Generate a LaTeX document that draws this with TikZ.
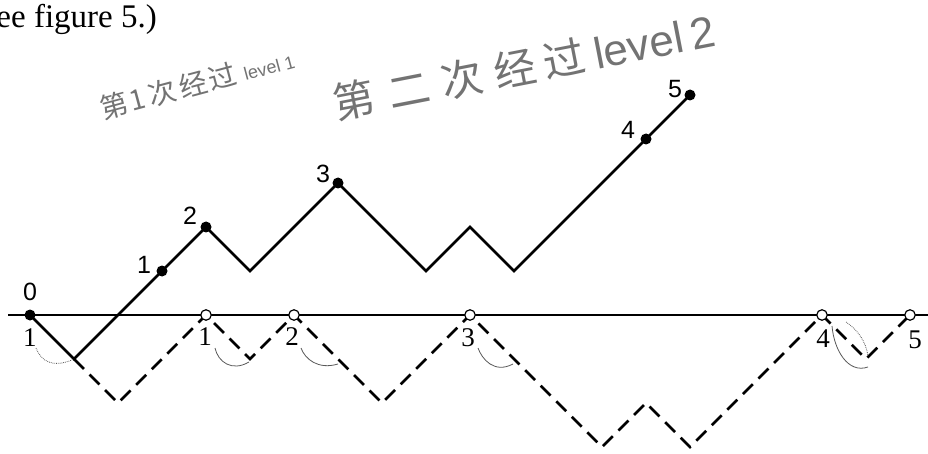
\documentclass[tikz,border=0pt]{standalone}
\usepackage{fontspec}
\setmainfont{Liberation Serif}
\newfontfamily\lsans{Liberation Sans}
\newfontfamily\cjk{Noto Sans CJK SC}
\begin{document}
\begin{tikzpicture}[x=1pt,y=-1pt,
  axisline/.style={line width=2pt},
  walk/.style={line width=2.6pt, line join=miter},
  walkdash/.style={walk, dash pattern=on 14pt off 8pt},
  fdot/.style={circle, fill=black, inner sep=0pt, minimum size=11pt},
  odot/.style={circle, draw=black, fill=white, line width=1.2pt, inner sep=0pt, minimum size=10.5pt},
  uplbl/.style={font=\lsans\fontsize{25}{25}\selectfont, inner sep=0pt},
  lowlbl/.style={font=\fontsize{27}{27}\selectfont, inner sep=0pt},
  pencil/.style={line width=0.8pt, black!65},
  hand/.style={black!55, inner sep=0pt}
]
\useasboundingbox (0,0) rectangle (928,454);

% header text (cut off at the page edge)
\node[anchor=base east, inner sep=0pt, font=\fontsize{33}{33}\selectfont] (hdr) at (157,28) {ee figure 5.)};

% handwritten annotations
\node[hand, rotate=15, font=\cjk\fontsize{28}{28}\selectfont] (ann1) at (197,83)
  {第\hspace{2pt}1\hspace{4pt}次\hspace{4pt}经\hspace{2pt}过\hspace{8pt}{\lsans\fontsize{18}{18}\selectfont level 1}};
\node[hand, rotate=11, font=\cjk\fontsize{42}{42}\selectfont] (ann2) at (524,67)
  {第\hspace{14pt}二\hspace{12pt}次\hspace{12pt}经\hspace{8pt}过\hspace{10pt}{\lsans\fontsize{44}{44}\selectfont level\hspace{8pt}2}};

% axis
\coordinate (axL) at (8,315);
\coordinate (axR) at (928,315);

% solid walk vertices
\coordinate (P0) at (30,315);
\coordinate (s1) at (74,359);
\coordinate (P1) at (162,271);
\coordinate (P2) at (206,227);
\coordinate (s2) at (250,271);
\coordinate (P3) at (338,183);
\coordinate (s3) at (426,271);
\coordinate (s4) at (470,227);
\coordinate (s5) at (514,271);
\coordinate (P4) at (646,139);
\coordinate (P5) at (690,95);

% dashed walk vertices
\coordinate (d1) at (118,403);
\coordinate (C1) at (206,315);
\coordinate (d2) at (250,359);
\coordinate (C2) at (294,315);
\coordinate (d3) at (382,403);
\coordinate (C3) at (470,315);
\coordinate (d4) at (602,447);
\coordinate (d5) at (646,403);
\coordinate (d6) at (690,447);
\coordinate (C4) at (822,315);
\coordinate (d7) at (866,359);
\coordinate (C5) at (910,315);

\draw[axisline] (axL) -- (axR);
\draw[walk] (P0) -- (s1) -- (P1) -- (P2) -- (s2) -- (P3) -- (s3) -- (s4) -- (s5) -- (P4) -- (P5);
\draw[walkdash] (s1) -- (d1) -- (C1) -- (d2) -- (C2) -- (d3) -- (C3) -- (d4) -- (d5) -- (d6) -- (C4) -- (d7) -- (C5);

% pencil arcs
\draw[pencil, densely dotted] (36,348) .. controls (41,361) and (52,368) .. (72,360);
\draw[pencil] (215,348) .. controls (218,362) and (232,372) .. (249,362);
\draw[pencil] (301,348) .. controls (305,359) and (318,370) .. (338,364);
\draw[pencil] (478,348) .. controls (482,359) and (494,374) .. (513,364);
\draw[pencil] (832,326) .. controls (834,350) and (848,374) .. (868,367);
\draw[pencil, densely dotted] (846,322) .. controls (858,330) and (866,342) .. (868,356);

% dots
\node[fdot] (n0) at (P0) {};
\node[fdot] (n1) at (P1) {};
\node[fdot] (n2) at (P2) {};
\node[fdot] (n3) at (P3) {};
\node[fdot] (n4) at (P4) {};
\node[fdot] (n5) at (P5) {};
\node[odot] (o1) at (C1) {};
\node[odot] (o2) at (C2) {};
\node[odot] (o3) at (C3) {};
\node[odot] (o4) at (C4) {};
\node[odot] (o5) at (C5) {};

% labels of the solid walk
\node[uplbl] (t0) at (30,292) {0};
\node[uplbl] (t1) at (144,265) {1};
\node[uplbl] (t2) at (190,216) {2};
\node[uplbl] (t3) at (323,174) {3};
\node[uplbl] (t4) at (628,130) {4};
\node[uplbl] (t5) at (675,89) {5};

% labels of the dashed walk
\node[lowlbl] (b0) at (30,338) {1};
\node[lowlbl] (b1) at (205,337) {1};
\node[lowlbl] (b2) at (292,337) {2};
\node[lowlbl] (b3) at (468,338) {3};
\node[lowlbl] (b4) at (823,339) {4};
\node[lowlbl] (b5) at (915,340) {5};
\end{tikzpicture}
\end{document}
